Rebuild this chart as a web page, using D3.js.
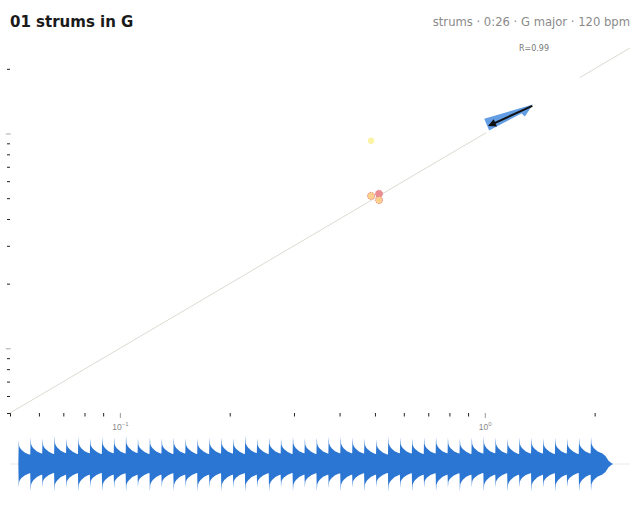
<!doctype html>
<html>
<head>
<meta charset="utf-8">
<title>01 strums in G</title>
<script src="https://d3js.org/d3.v7.min.js"></script>
<style>
  body { margin: 0; background: #fff; }
  svg { display: block; font-family: "DejaVu Sans", sans-serif; }
</style>
</head>
<body>
<div id="chart"></div>
<script>

// ---- data ----
var title = "01 strums in G";
var subtitle = "strums \u00b7 0:26 \u00b7 G major \u00b7 120 bpm";
var fitLabel = "R=0.99";

var tickValues = [0.05, 0.06, 0.07, 0.08, 0.09, 0.1, 0.2, 0.3, 0.4, 0.5, 0.6, 0.7, 0.8, 0.9, 1, 2];
var majorTicks = [0.1, 1];
var axisDomain = [0.05, 2.5];

// identity line, drawn in two pieces (gap behind the arrow)
var diagonalPieces = [[0.05, 1.01], [1.82, 2.5]];

// scatter points
var pointsX = [0.488, 0.488, 0.513, 0.513];
var pointsY = [0.925, 0.512, 0.524, 0.49];
var pointsKind = ["soft", "mid", "loud", "mid"];

// trend arrow (blue) and drift arrow (black)
var trendFrom = [1.012, 1.1];
var trendTo = [1.356, 1.357];
var driftFrom = [1.35, 1.345];
var driftTo = [1.03, 1.09];

// waveform: strum onsets (s), peak levels up / down, and the decay shape of one strum
var duration = 26;
var strumTimes = [0.35, 0.85, 1.35, 1.85, 2.35, 2.85, 3.35, 3.85, 4.35, 4.85,
  5.35, 5.85, 6.35, 6.85, 7.35, 7.85, 8.35, 8.85, 9.35, 9.85,
  10.35, 10.85, 11.35, 11.85, 12.35, 12.85, 13.35, 13.85, 14.35, 14.85,
  15.35, 15.85, 16.35, 16.85, 17.35, 17.85, 18.35, 18.85, 19.35, 19.85,
  20.35, 20.85, 21.35, 21.85, 22.35, 22.85, 23.35, 23.85, 24.35];
var strumTop = [0.83, 0.92, 0.89, 0.97, 0.89, 0.94, 0.89, 0.94, 0.92, 0.97,
  0.89, 0.92, 0.89, 0.92, 0.89, 0.89, 0.92, 0.92, 0.89, 0.97,
  0.89, 0.92, 0.89, 0.94, 0.89, 0.92, 0.94, 0.94, 0.92, 0.89,
  0.85, 0.94, 0.92, 0.89, 0.92, 0.94, 0.92, 0.89, 0.92, 0.94,
  0.92, 0.89, 0.92, 0.92, 0.89, 0.92, 0.89, 0.92, 0.94];
var strumBottom = [0.82, 0.95, 0.80, 0.96, 0.82, 0.95, 0.80, 0.95, 0.83, 0.96,
  0.80, 0.95, 0.82, 0.94, 0.80, 0.95, 0.82, 0.95, 0.81, 0.96,
  0.82, 0.95, 0.80, 0.95, 0.82, 0.94, 0.83, 0.95, 0.82, 0.95,
  0.80, 0.96, 0.82, 0.95, 0.81, 0.95, 0.82, 0.94, 0.80, 0.95,
  0.82, 0.95, 0.81, 0.96, 0.82, 0.95, 0.80, 0.95, 0.94];
var decayTime = [0.015, 0.035, 0.08, 0.14, 0.28, 0.42, 0.48, 0.62, 0.75, 0.88, 0.95];
var decayLevel = [1, 0.74, 0.65, 0.58, 0.47, 0.41, 0.39, 0.29, 0.12, 0.03, 0];

// ---- layout ----
var W = 640, H = 520;
var plot = {left: 10, right: 630, top: 48, bottom: 413};
var wave = {mid: 464, half: 29};

var svg = d3.select("#chart").append("svg")
  .attr("width", W)
  .attr("height", H);

var x = d3.scaleLog().domain(axisDomain).range([plot.left, plot.right]);
var y = d3.scaleLog().domain(axisDomain).range([plot.bottom, plot.top]);

var color = d3.scaleOrdinal()
  .domain(["soft", "mid", "loud"])
  .range(["#fbf3a6", "#fdcf8c", "#ea8c90"]);

// titles
svg.append("text")
  .attr("x", 10).attr("y", 27)
  .attr("font-size", 15).attr("font-weight", "bold")
  .attr("fill", "#1a1a1a")
  .text(title);

svg.append("text")
  .attr("x", 630).attr("y", 26)
  .attr("text-anchor", "end")
  .attr("font-size", 11.6)
  .attr("fill", "#8a8a8a")
  .text(subtitle);

// X axis
var gx = svg.append("g")
  .attr("transform", "translate(0," + plot.bottom + ")")
  .call(d3.axisBottom(x).tickValues(tickValues).tickSize(3.5).tickFormat(""));
gx.select(".domain").remove();
gx.selectAll(".tick line")
  .attr("stroke", function(d) { return majorTicks.indexOf(d) >= 0 ? "#999" : "#222"; })
  .attr("y2", function(d) { return majorTicks.indexOf(d) >= 0 ? 5 : 3.5; });

gx.selectAll(".tick")
  .filter(function(d) { return majorTicks.indexOf(d) >= 0; })
  .select("text")
  .attr("y", 17)
  .attr("dy", 0)
  .attr("font-size", 8.5)
  .attr("fill", "#888")
  .each(function(d) {
    var t = d3.select(this);
    t.append("tspan").text("10");
    t.append("tspan")
      .attr("dy", -3.8)
      .attr("font-size", 6)
      .text(String(Math.round(Math.log10(d))).replace("-", "\u2212"));
  });

// Y axis (ticks only)
var gy = svg.append("g")
  .attr("transform", "translate(" + plot.left + ",0)")
  .call(d3.axisLeft(y).tickValues(tickValues).tickSize(3).tickFormat(""));
gy.select(".domain").remove();
gy.selectAll(".tick line")
  .attr("stroke", function(d) { return majorTicks.indexOf(d) >= 0 ? "#aaa" : "#222"; })
  .attr("x1", function(d) { return majorTicks.indexOf(d) >= 0 ? 0.7 : 0; })
  .attr("x2", function(d) { return majorTicks.indexOf(d) >= 0 ? -4.2 : -3; });

// identity line
svg.selectAll(".diag")
  .data(diagonalPieces)
  .enter().append("line")
  .attr("class", "diag")
  .attr("x1", function(d) { return x(d[0]); })
  .attr("y1", function(d) { return y(d[0]); })
  .attr("x2", function(d) { return x(d[1]); })
  .attr("y2", function(d) { return y(d[1]); })
  .attr("stroke", "#dbdad2")
  .attr("stroke-width", 1);

svg.append("text")
  .attr("x", 534).attr("y", 51)
  .attr("text-anchor", "middle")
  .attr("font-size", 8)
  .attr("fill", "#777")
  .text(fitLabel);

// points
svg.selectAll(".dot")
  .data(pointsX)
  .enter().append("circle")
  .attr("class", "dot")
  .attr("cx", function(d) { return x(d); })
  .attr("cy", function(d, i) { return y(pointsY[i]); })
  .attr("r", function(d, i) { return pointsKind[i] == "soft" ? 3.2 : 3.6; })
  .attr("fill", function(d, i) { return color(pointsKind[i]); })
  .attr("stroke", function(d, i) { return pointsKind[i] == "soft" ? "none" : "#e0808a"; })
  .attr("stroke-width", 0.9)
  .attr("stroke-dasharray", "1.5,1");

// blue trend arrow (wedge shaft + head)
var tx0 = x(trendFrom[0]), ty0 = y(trendFrom[1]);
var tx1 = x(trendTo[0]), ty1 = y(trendTo[1]);
var len = Math.hypot(tx1 - tx0, ty1 - ty0);
var ux = (tx1 - tx0) / len, uy = (ty1 - ty0) / len;
var nx = -uy, ny = ux;   // normal to the lower right
function at(a, b) { return [tx0 + ux * a + nx * b, ty0 + uy * a + ny * b]; }
var wedge = [at(0, -6.3), at(len, -0.5), at(len - 12, 7.5), at(len - 14, 3.4), at(0, 6.3)];
svg.append("path")
  .attr("d", "M" + wedge.join("L") + "Z")
  .attr("fill", "#5294e2")
  .attr("fill-opacity", 0.9);

// black drift arrow
svg.append("defs").append("marker")
  .attr("id", "head")
  .attr("viewBox", "0 0 10 10")
  .attr("refX", 8).attr("refY", 5)
  .attr("markerUnits", "userSpaceOnUse")
  .attr("markerWidth", 9).attr("markerHeight", 8)
  .attr("orient", "auto")
  .append("path")
  .attr("d", "M0,0L10,5L0,10Z")
  .attr("fill", "#111");

svg.append("line")
  .attr("x1", x(driftFrom[0])).attr("y1", y(driftFrom[1]))
  .attr("x2", x(driftTo[0])).attr("y2", y(driftTo[1]))
  .attr("stroke", "#111")
  .attr("stroke-width", 2)
  .attr("marker-end", "url(#head)");

// ---- waveform ----
var t = d3.scaleLinear().domain([0, duration]).range([plot.left, plot.right]);
var a = d3.scaleLinear().domain([-1, 1]).range([wave.mid + wave.half, wave.mid - wave.half]);

var env = [];
var prevTop = 0, prevBot = 0;
strumTimes.forEach(function(t0, i) {
  var next = i < strumTimes.length - 1 ? strumTimes[i + 1] - t0 : Infinity;
  env.push({t: t0, top: prevTop, bot: prevBot});
  for (var j = 0; j < decayTime.length; j++) {
    if (decayTime[j] >= next) break;
    prevTop = strumTop[i] * decayLevel[j];
    prevBot = strumBottom[i] * decayLevel[j];
    env.push({t: t0 + decayTime[j], top: prevTop, bot: prevBot});
  }
});

svg.append("line")
  .attr("x1", t(0)).attr("x2", t(duration))
  .attr("y1", a(0)).attr("y2", a(0))
  .attr("stroke", "#e6ebf2")
  .attr("stroke-width", 1);

svg.append("path")
  .datum(env)
  .attr("fill", "#2b76d2")
  .attr("d", d3.area()
    .x(function(d) { return t(d.t); })
    .y0(function(d) { return a(-d.bot); })
    .y1(function(d) { return a(d.top); }));

</script>
</body>
</html>
